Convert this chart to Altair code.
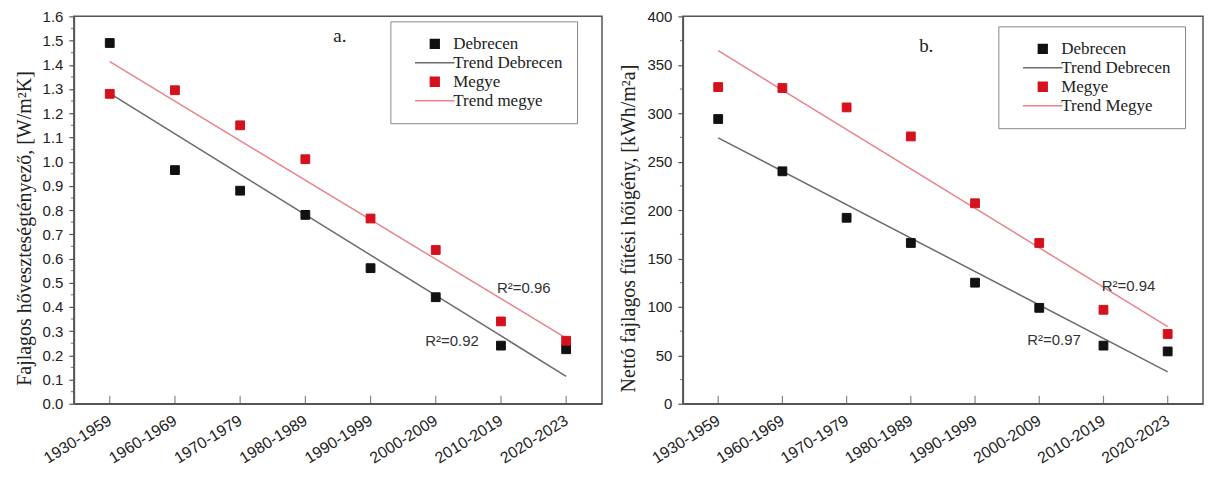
import altair as alt
import pandas as pd

periods = ["1930-1959", "1960-1969", "1970-1979", "1980-1989",
           "1990-1999", "2000-2009", "2010-2019", "2020-2023"]
idx = [1, 2, 3, 4, 5, 6, 7, 8]

a_debrecen = [1.49, 0.965, 0.88, 0.78, 0.56, 0.44, 0.24, 0.225]
a_megye = [1.28, 1.295, 1.15, 1.01, 0.765, 0.635, 0.34, 0.26]
b_debrecen = [294, 240, 192, 166, 125, 99, 60, 54]
b_megye = [327, 326, 306, 276, 207, 166, 97, 72]

a_legend = ["Debrecen", "Trend Debrecen", "Megye", "Trend megye"]
b_legend = ["Debrecen", "Trend Debrecen", "Megye", "Trend Megye"]

a_title = "Fajlagos hőveszteségtényező, [W/m²K]"
b_title = "Nettó fajlagos fűtési hőigény, [kWh/m²a]"

a_panel = ["a."]
a_panel_x = [4.53]
a_panel_y = [1.52]
b_panel = ["b."]
b_panel_x = [4.24]
b_panel_y = [369]

a_r2 = ["R²=0.96", "R²=0.92"]
a_r2_x = [7.35, 6.25]
a_r2_y = [0.48, 0.26]
b_r2 = ["R²=0.94", "R²=0.97"]
b_r2_x = [7.39, 6.23]
b_r2_y = [122, 66]

SQ = "M-0.8,-0.8H0.8V0.8H-0.8Z"
LN = "M-3.6,0H3.6"
BLACK, GREY, RED, PINK = "#111111", "#6b6b6b", "#d4111c", "#e8848c"
AXC = "#555555"
H = 388

label_expr = "[" + ",".join("'%s'" % p for p in periods) + "][datum.value - 1]"


def panel(deb, meg, names, ytitle, ydomain, ystep, fmt, ptxt, px, py,
          rtxt, rx, ry, width, lx, ly):
    df = pd.DataFrame({
        "idx": idx * 2,
        "value": deb + meg,
        "series": [names[0]] * 8 + [names[2]] * 8,
        "trend": [names[1]] * 8 + [names[3]] * 8,
    })
    x = alt.X("idx:Q", scale=alt.Scale(domain=[0.45, 8.55], nice=False, zero=False),
              axis=alt.Axis(values=idx, labelExpr=label_expr, title=None, grid=False,
                            ticks=False, labelAngle=-32, labelAlign="right",
                            labelBaseline="middle", labelPadding=15,
                            labelOverlap=False,
                            domainColor=AXC, domainWidth=1.5,
                            labelFont="Liberation Sans", labelFontSize=16,
                            labelColor="#222"))
    yvals = []
    v = ydomain[0]
    while v <= ydomain[1] + 1e-9:
        yvals.append(round(v, 4))
        v += ystep
    minor = [round(t + ystep / 2, 4) for t in yvals[:-1]]
    y = alt.Y("value:Q", scale=alt.Scale(domain=ydomain, nice=False, zero=False),
              axis=alt.Axis(values=yvals, format=fmt, title=ytitle, grid=False,
                            tickSize=5, tickColor=AXC, tickWidth=1.2,
                            domainColor=AXC, domainWidth=1.5, labelPadding=6,
                            labelFont="Liberation Sans", labelFontSize=15,
                            labelColor="#222", titleFont="Liberation Serif",
                            titleFontSize=20, titleFontWeight="normal",
                            titleColor="#222", titlePadding=8,
                            titleY=H / 2 + 18))
    leg = alt.Legend(title=None, orient="none", legendX=lx, legendY=ly,
                     fillColor="white", strokeColor="#888", padding=14,
                     labelFont="Liberation Serif", labelFontSize=17,
                     labelColor="#222", symbolSize=121, symbolStrokeWidth=1.5,
                     symbolOffset=22, labelOffset=10, rowPadding=1)
    shape_s = alt.Scale(domain=names, range=[SQ, LN, SQ, LN])
    col_s = alt.Scale(domain=names, range=[BLACK, GREY, RED, PINK])

    points = alt.Chart(df).mark_point(size=121, filled=False, strokeWidth=1,
                                      opacity=1, fillOpacity=1).encode(
        x=x, y=y,
        shape=alt.Shape("series:N", scale=shape_s, legend=leg),
        fill=alt.Fill("series:N", scale=col_s, legend=leg),
        stroke=alt.Stroke("series:N", scale=col_s, legend=leg),
    )
    lines = alt.Chart(df).transform_regression(
        "idx", "value", groupby=["trend"]
    ).transform_calculate(series="datum.trend").mark_line(strokeWidth=1.5).encode(
        x=x, y=y,
        stroke=alt.Stroke("series:N", scale=col_s, legend=leg),
    )
    ticks = alt.Chart(pd.DataFrame({"idx": idx, "value": [ydomain[0]] * 8})).mark_tick(
        orient="vertical", size=8, thickness=1.2, color=AXC, yOffset=-4
    ).encode(x=x, y=y)
    mticks = alt.Chart(pd.DataFrame({"value": minor})).mark_tick(
        orient="horizontal", size=3, thickness=1.2, color=AXC, xOffset=-1.5
    ).encode(x=alt.value(0), y=y)
    ptext = alt.Chart(pd.DataFrame({"idx": px, "value": py, "t": ptxt})).mark_text(
        font="Liberation Serif", fontSize=19, color="#222"
    ).encode(x=x, y=y, text="t:N")
    rtext = alt.Chart(pd.DataFrame({"idx": rx, "value": ry, "t": rtxt})).mark_text(
        font="Liberation Sans", fontSize=15, color="#333"
    ).encode(x=x, y=y, text="t:N")
    return alt.layer(lines, points, ticks, mticks, ptext, rtext).properties(
        width=width, height=H)


left = panel(a_debrecen, a_megye, a_legend, a_title, [0.0, 1.6], 0.1, ".1f",
             a_panel, a_panel_x, a_panel_y, a_r2, a_r2_x, a_r2_y, 529, 317, 5)
right = panel(b_debrecen, b_megye, b_legend, b_title, [0, 400], 50, "d",
              b_panel, b_panel_x, b_panel_y, b_r2, b_r2_x, b_r2_y, 521, 316, 10)

chart = alt.hconcat(left, right, spacing=15).resolve_scale(
    fill="independent", stroke="independent", shape="independent",
    x="independent", y="independent"
).resolve_legend(fill="independent", stroke="independent", shape="independent").properties(
    padding={"left": 5, "top": 0, "right": 0, "bottom": 0}
).configure_view(stroke=AXC, strokeWidth=1.5)

chart.save("out.html", embed_options={"renderer": "svg", "actions": False})
